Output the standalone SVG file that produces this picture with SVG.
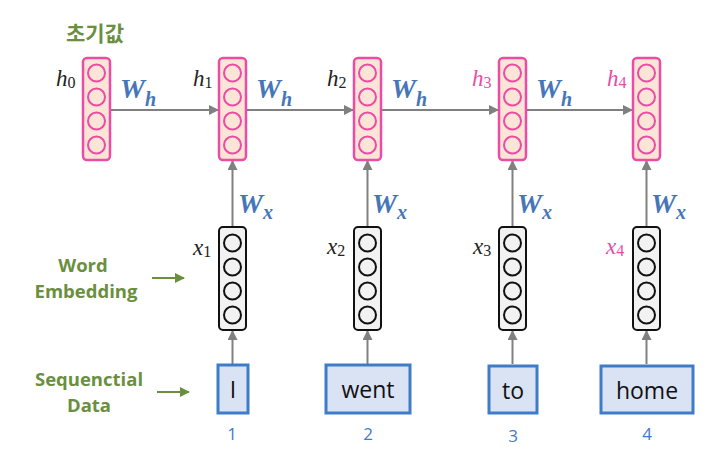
<svg xmlns="http://www.w3.org/2000/svg" width="708" height="462" viewBox="0 0 708 462">
<defs>
<style>
.hb{fill:#fbe5d6;stroke:#ec4ba6;stroke-width:2.5}
.hc{fill:none;stroke:#ec4ba6;stroke-width:2}
.xb{fill:#f2f2f2;stroke:#111;stroke-width:2}
.xc{fill:none;stroke:#111;stroke-width:2}
.ib{fill:#dae3f3;stroke:#3f7cc8;stroke-width:3}
.it{font-family:"Open Sans","Noto Sans",sans-serif;font-size:23px;fill:#111;text-anchor:middle}
.num{font-family:"Open Sans","Noto Sans",sans-serif;font-size:17px;fill:#3f7cc8;text-anchor:middle}
.w{font-family:"Liberation Serif",serif;font-weight:bold;font-style:italic;fill:#4676b8}
.var{font-family:"Liberation Serif",serif;font-style:italic;font-size:23px;fill:#222}
.pk{fill:#e84ba6}
.sub{font-size:16px;font-style:normal}
.gl{font-family:"Open Sans","Noto Sans","Noto Sans CJK KR",sans-serif;font-weight:bold;font-size:18.5px;fill:#6a8f3f;text-anchor:middle}
.kr{font-family:"Noto Sans CJK KR",sans-serif;font-size:21px}
.conn{stroke:#808080;stroke-width:2;fill:none}
.gconn{stroke:#6a8f3f;stroke-width:2;fill:none}
</style>
<marker id="ah" viewBox="0 0 10 10" refX="9" refY="5" markerWidth="5" markerHeight="5" orient="auto" markerUnits="strokeWidth">
<path d="M0,0 L10,5 L0,10 z" fill="#808080"/>
</marker>
<marker id="gh" viewBox="0 0 10 10" refX="9" refY="5" markerWidth="5" markerHeight="5" orient="auto" markerUnits="strokeWidth">
<path d="M0,0 L10,5 L0,10 z" fill="#6a8f3f"/>
</marker>
</defs>
<rect width="708" height="462" fill="#fff"/>

<g id="connectors">
<line class="conn" x1="110" y1="110" x2="218" y2="110" marker-end="url(#ah)"/>
<line class="conn" x1="246" y1="110" x2="353" y2="110" marker-end="url(#ah)"/>
<line class="conn" x1="381" y1="110" x2="498" y2="110" marker-end="url(#ah)"/>
<line class="conn" x1="526" y1="110" x2="632" y2="110" marker-end="url(#ah)"/>
<line class="conn" x1="232.5" y1="227" x2="232.5" y2="161" marker-end="url(#ah)"/>
<line class="conn" x1="367.5" y1="227" x2="367.5" y2="161" marker-end="url(#ah)"/>
<line class="conn" x1="512.5" y1="227" x2="512.5" y2="161" marker-end="url(#ah)"/>
<line class="conn" x1="646.5" y1="227" x2="646.5" y2="161" marker-end="url(#ah)"/>
<line class="conn" x1="232.5" y1="364" x2="232.5" y2="331" marker-end="url(#ah)"/>
<line class="conn" x1="367.5" y1="364" x2="367.5" y2="331" marker-end="url(#ah)"/>
<line class="conn" x1="512.5" y1="364" x2="512.5" y2="331" marker-end="url(#ah)"/>
<line class="conn" x1="646.5" y1="364" x2="646.5" y2="331" marker-end="url(#ah)"/>
<line class="gconn" x1="152" y1="278" x2="184" y2="278" marker-end="url(#gh)"/>
<line class="gconn" x1="157" y1="392" x2="189" y2="392" marker-end="url(#gh)"/>
</g>

<g id="weights">
<text class="w" x="120" y="98" font-size="28">W<tspan font-size="20" dy="8">h</tspan></text>
<text class="w" x="256" y="98" font-size="28">W<tspan font-size="20" dy="8">h</tspan></text>
<text class="w" x="391" y="98" font-size="28">W<tspan font-size="20" dy="8">h</tspan></text>
<text class="w" x="536" y="98" font-size="28">W<tspan font-size="20" dy="8">h</tspan></text>
<text class="w" x="238" y="213" font-size="28">W<tspan font-size="20" dy="6">x</tspan></text>
<text class="w" x="372" y="213" font-size="28">W<tspan font-size="20" dy="6">x</tspan></text>
<text class="w" x="517" y="213" font-size="28">W<tspan font-size="20" dy="6">x</tspan></text>
<text class="w" x="651" y="213" font-size="28">W<tspan font-size="20" dy="6">x</tspan></text>
</g>

<g id="h0">
<rect class="hb" x="83" y="58" width="27" height="102" rx="4"/>
<circle class="hc" cx="96.5" cy="73" r="8.5"/><circle class="hc" cx="96.5" cy="97" r="8.5"/><circle class="hc" cx="96.5" cy="121" r="8.5"/><circle class="hc" cx="96.5" cy="145" r="8.5"/>
<text class="var" x="56" y="86">h<tspan class="sub" dy="2">0</tspan></text>
</g>
<g id="h1">
<rect class="hb" x="219" y="58" width="27" height="102" rx="4"/>
<circle class="hc" cx="232.5" cy="73" r="8.5"/><circle class="hc" cx="232.5" cy="97" r="8.5"/><circle class="hc" cx="232.5" cy="121" r="8.5"/><circle class="hc" cx="232.5" cy="145" r="8.5"/>
<text class="var" x="193" y="86">h<tspan class="sub" dy="2">1</tspan></text>
</g>
<g id="h2">
<rect class="hb" x="354" y="58" width="27" height="102" rx="4"/>
<circle class="hc" cx="367.5" cy="73" r="8.5"/><circle class="hc" cx="367.5" cy="97" r="8.5"/><circle class="hc" cx="367.5" cy="121" r="8.5"/><circle class="hc" cx="367.5" cy="145" r="8.5"/>
<text class="var" x="327" y="86">h<tspan class="sub" dy="2">2</tspan></text>
</g>
<g id="h3">
<rect class="hb" x="499" y="58" width="27" height="102" rx="4"/>
<circle class="hc" cx="512.5" cy="73" r="8.5"/><circle class="hc" cx="512.5" cy="97" r="8.5"/><circle class="hc" cx="512.5" cy="121" r="8.5"/><circle class="hc" cx="512.5" cy="145" r="8.5"/>
<text class="var pk" x="472" y="86">h<tspan class="sub" dy="2">3</tspan></text>
</g>
<g id="h4">
<rect class="hb" x="633" y="58" width="27" height="102" rx="4"/>
<circle class="hc" cx="646.5" cy="73" r="8.5"/><circle class="hc" cx="646.5" cy="97" r="8.5"/><circle class="hc" cx="646.5" cy="121" r="8.5"/><circle class="hc" cx="646.5" cy="145" r="8.5"/>
<text class="var pk" x="607" y="86">h<tspan class="sub" dy="2">4</tspan></text>
</g>

<g id="x1">
<rect class="xb" x="219" y="227" width="27" height="103" rx="4"/>
<circle class="xc" cx="232.5" cy="243" r="8.5"/><circle class="xc" cx="232.5" cy="267" r="8.5"/><circle class="xc" cx="232.5" cy="291" r="8.5"/><circle class="xc" cx="232.5" cy="315" r="8.5"/>
<text class="var" x="193" y="255">x<tspan class="sub" dy="2">1</tspan></text>
</g>
<g id="x2">
<rect class="xb" x="354" y="227" width="27" height="103" rx="4"/>
<circle class="xc" cx="367.5" cy="243" r="8.5"/><circle class="xc" cx="367.5" cy="267" r="8.5"/><circle class="xc" cx="367.5" cy="291" r="8.5"/><circle class="xc" cx="367.5" cy="315" r="8.5"/>
<text class="var" x="327" y="254">x<tspan class="sub" dy="2">2</tspan></text>
</g>
<g id="x3">
<rect class="xb" x="499" y="227" width="27" height="103" rx="4"/>
<circle class="xc" cx="512.5" cy="243" r="8.5"/><circle class="xc" cx="512.5" cy="267" r="8.5"/><circle class="xc" cx="512.5" cy="291" r="8.5"/><circle class="xc" cx="512.5" cy="315" r="8.5"/>
<text class="var" x="473" y="254">x<tspan class="sub" dy="2">3</tspan></text>
</g>
<g id="x4">
<rect class="xb" x="633" y="227" width="27" height="103" rx="4"/>
<circle class="xc" cx="646.5" cy="243" r="8.5"/><circle class="xc" cx="646.5" cy="267" r="8.5"/><circle class="xc" cx="646.5" cy="291" r="8.5"/><circle class="xc" cx="646.5" cy="315" r="8.5"/>
<text class="var pk" x="606" y="254">x<tspan class="sub" dy="2">4</tspan></text>
</g>

<g id="in1">
<rect class="ib" x="218" y="365" width="30" height="48"/>
<text class="it" x="233" y="398">I</text>
<text class="num" x="232" y="440">1</text>
</g>
<g id="in2">
<rect class="ib" x="326" y="365" width="84" height="48"/>
<text class="it" x="368" y="398">went</text>
<text class="num" x="368" y="440">2</text>
</g>
<g id="in3">
<rect class="ib" x="489" y="366" width="48" height="47"/>
<text class="it" x="513" y="399">to</text>
<text class="num" x="513" y="442">3</text>
</g>
<g id="in4">
<rect class="ib" x="601" y="366" width="92" height="47"/>
<text class="it" x="647" y="399">home</text>
<text class="num" x="647" y="440">4</text>
</g>

<g id="labels">
<text class="gl kr" x="95" y="41">초기값</text>
<text class="gl" x="83" y="272">Word</text>
<text class="gl" x="86" y="298">Embedding</text>
<text class="gl" x="89" y="386">Sequenctial</text>
<text class="gl" x="89" y="412">Data</text>
</g>
</svg>
